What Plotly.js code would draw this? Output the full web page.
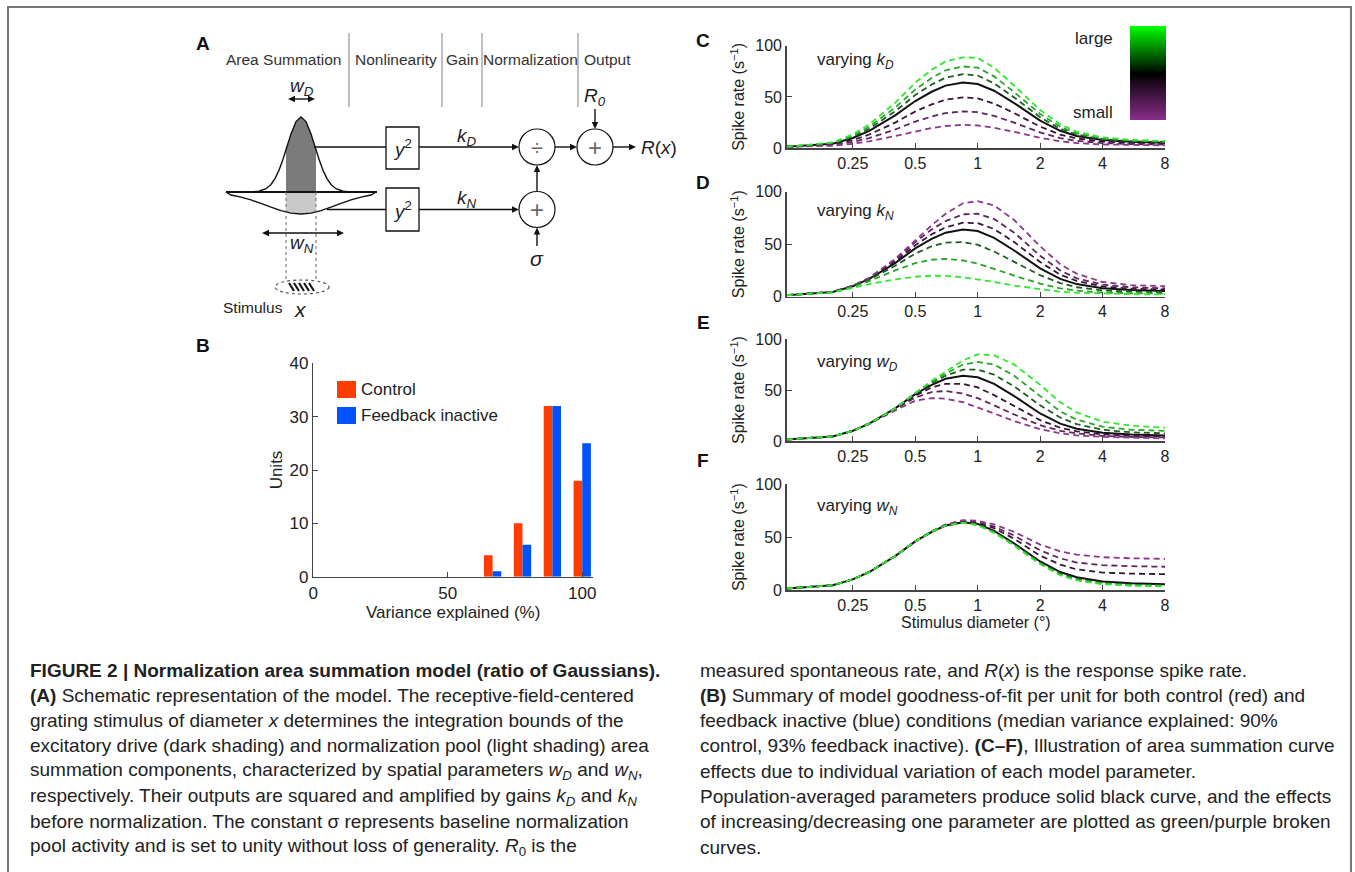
<!DOCTYPE html>
<html><head><meta charset="utf-8">
<script src="https://cdn.plot.ly/plotly-3.0.1.min.js"></script>
<style>html,body{margin:0;padding:0;background:#fff;}#chart{width:1355px;height:872px;}</style>
</head><body><div id="chart"></div>
<script>
// ---------- DATA ----------
const diam = [0.12, 0.2, 0.25, 0.3, 0.4, 0.5, 0.6, 0.7, 0.85, 1, 1.2, 1.5, 2, 2.5, 3, 4, 5.5, 8];
const diamTicks = [0.25, 0.5, 1, 2, 4, 8];
const diamTickText = ['0.25', '0.5', '1', '2', '4', '8'];
const populationCurve = [1.5, 4.5, 10, 17, 32, 46, 55, 61, 64, 62.5, 56, 44, 27, 17, 12, 8, 6.3, 5.5];

// C: varying kD (large -> green, small -> purple)
const kdLarge3 = [1.5, 5.7, 13.4, 23.2, 44.2, 63.8, 76.4, 84.5, 88.5, 88, 78.5, 61, 37.2, 23.2, 16.2, 10.6, 8.2, 7.1];
const kdLarge2 = [1.5, 5.3, 12.1, 20.9, 39.6, 57.1, 68.4, 75.9, 79.6, 78.5, 70, 54.6, 33.4, 20.9, 14.6, 9.6, 7.5, 6.5];
const kdLarge1 = [1.5, 4.9, 11.1, 19, 36, 51.8, 62, 68.7, 72.1, 70.8, 63.1, 49.5, 30.3, 19, 13.4, 8.8, 6.9, 6];
const kdSmall1 = [1.5, 3.8, 8, 13.4, 25, 35.8, 42.7, 47.3, 49.6, 48.5, 43.5, 34.2, 21.1, 13.4, 9.6, 6.5, 5.2, 4.6];
const kdSmall2 = [1.5, 3.2, 6.2, 10, 18.3, 26, 30.9, 34.2, 35.9, 35.1, 31.5, 24.9, 15.5, 10, 7.3, 5.1, 4.1, 3.7];
const kdSmall3 = [1.5, 2.5, 4.4, 6.8, 11.9, 16.6, 19.7, 21.7, 22.8, 22.2, 20, 16, 10.2, 6.8, 5.1, 3.7, 3.1, 2.9];

// D: varying kN
const knSmall3 = [1.5, 4.6, 10.5, 18, 36, 54, 68, 79, 89, 91, 87, 73, 48, 31, 22, 14, 11, 10];
const knSmall2 = [1.5, 4.6, 10.4, 17.8, 35, 52, 64, 72, 78.5, 79, 74, 61, 39, 25, 17.5, 11.5, 9, 8];
const knSmall1 = [1.5, 4.5, 10.2, 17.4, 33.5, 49, 59.5, 66, 70.5, 70, 64.5, 52, 33, 21, 15, 9.8, 7.6, 6.8];
const knLarge1 = [1.5, 4.4, 9.8, 16.3, 29.5, 41, 48, 51.5, 52, 49.5, 43, 33, 20.5, 13, 9, 6, 4.8, 4.3];
const knLarge2 = [1.5, 4.3, 9.3, 14.8, 25, 32, 35.2, 36, 34.5, 31.5, 26.5, 20, 12.5, 8, 5.8, 4, 3.3, 3];
const knLarge3 = [1.5, 4.1, 8.3, 12, 16.5, 19, 20, 19.8, 18.5, 16.5, 14, 10.5, 7, 4.8, 3.8, 2.8, 2.4, 2.2];

// E: varying wD
const wdLarge3 = [1.5, 4.5, 10, 17, 32, 47, 59, 68, 79, 85, 84, 75, 55, 38, 28, 19, 15, 13];
const wdLarge2 = [1.5, 4.5, 10, 17, 32, 47, 58, 66, 75, 77.5, 75, 64, 44, 29, 21, 14, 11, 10];
const wdLarge1 = [1.5, 4.5, 10, 17, 32, 46.5, 57, 64, 70, 70, 65, 53.5, 35, 23, 16.5, 11, 8.5, 7.5];
const wdSmall1 = [1.5, 4.5, 10, 17, 31.5, 44.5, 52.5, 56, 56, 52.5, 45, 34, 20.5, 13, 9.5, 6.5, 5, 4.5];
const wdSmall2 = [1.5, 4.5, 10, 17, 31, 42.5, 48, 49, 46.5, 42, 35, 26, 15.5, 10, 7.5, 5, 4, 3.5];
const wdSmall3 = [1.5, 4.5, 10, 16.8, 30, 39.5, 42, 41.5, 38, 33, 27, 19.5, 11.5, 7.5, 5.5, 4, 3, 2.5];

// F: varying wN
const wnSmall3 = [1.5, 4.5, 10, 17, 32, 46, 55.5, 62, 66, 65.5, 62, 55, 43, 36.5, 33.5, 31, 30, 29.5];
const wnSmall2 = [1.5, 4.5, 10, 17, 32, 46, 55.5, 61.5, 65.5, 64.5, 60, 51.5, 37.5, 30, 26, 23.5, 22.5, 22];
const wnSmall1 = [1.5, 4.5, 10, 17, 32, 46, 55, 61, 65, 63.5, 58.5, 48.5, 32.5, 24, 19.5, 16.5, 15.5, 15];
const wnLarge1 = [1.5, 4.5, 10, 17, 32, 46, 55, 61, 64, 62, 55, 43, 26, 15.5, 10.5, 6.8, 5, 4.3];
const wnLarge2 = [1.5, 4.5, 10, 17, 32, 46, 55, 61, 63.5, 61.5, 54.5, 42.5, 25, 14.5, 9.5, 6, 4.5, 3.8];
const wnLarge3 = [1.5, 4.5, 10, 17, 32, 46, 55, 61, 63.5, 61.5, 54, 42, 24.5, 14, 9, 5.5, 4, 3.5];

// B: histogram
const binCenters = [0, 11.11, 22.22, 33.33, 44.44, 55.56, 66.67, 77.78, 88.89, 100];
const controlUnits = [0, 0, 0, 0, 0, 0, 4, 10, 32, 18];
const feedbackUnits = [0, 0, 0, 0, 0, 0, 1, 6, 32, 25];
const seriesNames = ['Control', 'Feedback inactive'];
const unitTicks = [0, 10, 20, 30, 40];
const varianceTicks = [0, 50, 100];

// colour scale bar levels
const colorLevels = [0, 0.1, 0.2, 0.3, 0.4, 0.5, 0.6, 0.7, 0.8, 0.9, 1];

const stageLabels = ['Area Summation', 'Nonlinearity', 'Gain', 'Normalization', 'Output'];
const panelTexts = ['varying <i>k<sub>D</sub></i>', 'varying <i>k<sub>N</sub></i>', 'varying <i>w<sub>D</sub></i>', 'varying <i>w<sub>N</sub></i>'];

const captionLeft = [
  '<b>FIGURE 2 | Normalization area summation model (ratio of Gaussians).</b>',
  '<b>(A)</b> Schematic representation of the model. The receptive-field-centered',
  'grating stimulus of diameter <i>x</i> determines the integration bounds of the',
  'excitatory drive (dark shading) and normalization pool (light shading) area',
  'summation components, characterized by spatial parameters <i>w<sub>D</sub></i> and <i>w<sub>N</sub></i>,',
  'respectively. Their outputs are squared and amplified by gains <i>k<sub>D</sub></i> and <i>k<sub>N</sub></i>',
  'before normalization. The constant σ represents baseline normalization',
  'pool activity and is set to unity without loss of generality. <i>R</i><sub>0</sub> is the'
];
const captionRight = [
  'measured spontaneous rate, and <i>R</i>(<i>x</i>) is the response spike rate.',
  '<b>(B)</b> Summary of model goodness-of-fit per unit for both control (red) and',
  'feedback inactive (blue) conditions (median variance explained: 90%',
  'control, 93% feedback inactive). <b>(C–F)</b>, Illustration of area summation curve',
  'effects due to individual variation of each model parameter.',
  'Population-averaged parameters produce solid black curve, and the effects',
  'of increasing/decreasing one parameter are plotted as green/purple broken',
  'curves.'
];

// ---------- STYLE / LAYOUT ----------
const W = 1355, H = 872;
const FONT = 'Arial, "Liberation Sans", Helvetica, sans-serif';
const fx = p => p / W;
const fy = p => 1 - p / H;
const GREENS = ['#1f5c1f', '#28a528', '#2ee82e'];   // near black -> bright
const PURPLES = ['#3a133a', '#5e245e', '#8e378e'];
const DASH = '6px,4px';

const traces = [];
function addPanel(idx, large, small) {
  const xa = 'x' + (idx + 2), ya = 'y' + (idx + 2);
  traces.push({type: 'scatter', mode: 'lines', x: diam, y: populationCurve, xaxis: xa, yaxis: ya,
    line: {color: '#111', width: 2}, hoverinfo: 'skip', showlegend: false});
  small.forEach((s, i) => traces.push({type: 'scatter', mode: 'lines', x: diam, y: s, xaxis: xa, yaxis: ya,
    line: {color: PURPLES[i], width: 1.8, dash: DASH}, hoverinfo: 'skip', showlegend: false}));
  large.forEach((s, i) => traces.push({type: 'scatter', mode: 'lines', x: diam, y: s, xaxis: xa, yaxis: ya,
    line: {color: GREENS[i], width: 1.8, dash: DASH}, hoverinfo: 'skip', showlegend: false}));
}
addPanel(0, [kdLarge1, kdLarge2, kdLarge3], [kdSmall1, kdSmall2, kdSmall3]);
addPanel(1, [knLarge1, knLarge2, knLarge3], [knSmall1, knSmall2, knSmall3]);
addPanel(2, [wdLarge1, wdLarge2, wdLarge3], [wdSmall1, wdSmall2, wdSmall3]);
addPanel(3, [wnLarge1, wnLarge2, wnLarge3], [wnSmall1, wnSmall2, wnSmall3]);

traces.push({type: 'bar', x: binCenters, y: controlUnits, name: seriesNames[0], marker: {color: '#ff3c00', line: {width: 0}}, xaxis: 'x', yaxis: 'y', hoverinfo: 'skip'});
traces.push({type: 'bar', x: binCenters, y: feedbackUnits, name: seriesNames[1], marker: {color: '#0052ff', line: {width: 0}}, xaxis: 'x', yaxis: 'y', hoverinfo: 'skip'});

traces.push({type: 'heatmap', x: [0], y: colorLevels, z: colorLevels.map(v => [v]), zsmooth: 'best',
  colorscale: [[0, '#8b2f8b'], [0.5, '#000000'], [1, '#00ff00']], showscale: false, xaxis: 'x6', yaxis: 'y6', hoverinfo: 'skip'});
traces.push({type: 'scatter', x: [], y: [], xaxis: 'x7', yaxis: 'y7', showlegend: false, hoverinfo: 'skip'});

const layout = {
  width: W, height: H, margin: {l: 0, r: 0, t: 0, b: 0},
  paper_bgcolor: '#fff', plot_bgcolor: 'rgba(0,0,0,0)', showlegend: false,
  font: {family: FONT, size: 16, color: '#222'},
  barmode: 'group', bargap: 0.42, bargroupgap: 0,
  xaxis: {domain: [fx(313.3), fx(593)], range: [0, 104], anchor: 'y', tickvals: varianceTicks,
    ticks: 'inside', ticklen: 5, tickcolor: '#444', showline: true, linecolor: '#444', linewidth: 1.5,
    showgrid: false, zeroline: false, tickfont: {size: 17},
    title: {text: 'Variance explained (%)', font: {size: 17}, standoff: 0}},
  yaxis: {domain: [fy(576.7), fy(363.3)], range: [0, 40], anchor: 'x', tickvals: unitTicks,
    ticks: 'inside', ticklen: 5, tickcolor: '#444', showline: true, linecolor: '#444', linewidth: 1.5,
    showgrid: false, zeroline: false, tickfont: {size: 17},
    title: {text: 'Units', font: {size: 17}, standoff: 2}},
  xaxis6: {domain: [fx(1130), fx(1166)], range: [-0.5, 0.5], visible: false, anchor: 'y6'},
  yaxis6: {domain: [fy(120), fy(26)], range: [0, 1], visible: false, anchor: 'x6'},
  xaxis7: {domain: [0, 1], range: [0, W], visible: false, anchor: 'y7', fixedrange: true},
  yaxis7: {domain: [0, 1], range: [H, 0], visible: false, anchor: 'x7', fixedrange: true},
  shapes: [], annotations: []
};

const panelY = [[45.5, 148.3], [191.7, 296.7], [339, 441], [484.3, 590]];
panelY.forEach((py, i) => {
  const n = i + 2;
  layout['xaxis' + n] = {domain: [fx(786.7), fx(1165)], type: 'log', range: [Math.log10(0.12), Math.log10(8)],
    anchor: 'y' + n, tickvals: diamTicks, ticktext: diamTickText, ticks: 'inside', ticklen: 5, tickcolor: '#444',
    showline: true, linecolor: '#444', linewidth: 1.5, showgrid: false, zeroline: false, tickfont: {size: 16}};
  layout['yaxis' + n] = {domain: [fy(py[1]), fy(py[0])], range: [0, 100], anchor: 'x' + n, tickvals: [0, 50, 100],
    ticks: 'inside', ticklen: 5, tickcolor: '#444', showline: true, linecolor: '#444', linewidth: 1.5,
    showgrid: false, zeroline: false, tickfont: {size: 16},
    title: {text: 'Spike rate (s<sup>−1</sup>)', font: {size: 16}, standoff: 6}};
});
layout.xaxis5.title = {text: 'Stimulus diameter (°)', font: {size: 16}, standoff: 0};

// helpers in page pixel space (axis x7/y7)
const S = layout.shapes, A = layout.annotations;
function txt(x, y, text, o) {
  A.push(Object.assign({x, y, xref: 'x7', yref: 'y7', text, showarrow: false, xanchor: 'center', yanchor: 'middle',
    font: {size: 16, color: '#222'}}, o || {}));
}
function line(x0, y0, x1, y1, o) {
  S.push(Object.assign({type: 'line', xref: 'x7', yref: 'y7', x0, y0, x1, y1, line: {color: '#111', width: 1.5}}, o || {}));
}
function head(tx, ty, ux, uy) {
  const L = 7, w = 3.2, nx = -uy, ny = ux;
  S.push({type: 'path', xref: 'x7', yref: 'y7', fillcolor: '#111', line: {width: 0},
    path: `M${tx},${ty} L${tx - L * ux + w * nx},${ty - L * uy + w * ny} L${tx - L * ux - w * nx},${ty - L * uy - w * ny} Z`});
}
function arrow(x0, y0, x1, y1, both) {
  const d = Math.hypot(x1 - x0, y1 - y0), ux = (x1 - x0) / d, uy = (y1 - y0) / d;
  line(both ? x0 + 6 * ux : x0, both ? y0 + 6 * uy : y0, x1 - 6 * ux, y1 - 6 * uy, {line: {color: '#111', width: 1.4}});
  head(x1, y1, ux, uy);
  if (both) head(x0, y0, -ux, -uy);
}

// border frame
S.push({type: 'rect', xref: 'x7', yref: 'y7', x0: 8, y0: 7, x1: 1351, y1: 900, line: {color: '#777', width: 2}});

// panel labels
[['A', 203, 43], ['B', 203, 345], ['C', 703, 40], ['D', 703, 182], ['E', 703, 322], ['F', 703, 460]]
  .forEach(p => txt(p[1], p[2], '<b>' + p[0] + '</b>', {font: {size: 19, color: '#111'}}));

// ---- Panel A schematic ----
const stageX = [283, 396, 462, 530, 607];
stageLabels.forEach((s, i) => txt(stageX[i], 59, s, {font: {size: 15.5, color: '#333'}}));
[349, 442, 482, 578].forEach(x => line(x, 33, x, 107, {line: {color: '#aaa', width: 1.5}}));
S.push({type: 'path', xref: 'x7', yref: 'y7',
  path: 'M286,192 L286,149.8 L291,133.9 L296,121.6 L301,117 L306,121.6 L311,133.9 L316,149.8 L316,192 Z',
  fillcolor: '#7b7b7b', line: {width: 0}});
S.push({type: 'path', xref: 'x7', yref: 'y7',
  path: 'M286,192 L286,212.1 L291,213.1 L301,214 L311,213.1 L316,212.1 L316,192 Z',
  fillcolor: '#c9c9c9', line: {width: 0}});
S.push({type: 'path', xref: 'x7', yref: 'y7',
  path: 'M251,192 L259,191.2 L266,188.7 L271,184.5 L275,178.6 L279,170.2 L283,159.2 L287,146.5 L291,133.9 L296,121.6 L301,117 L306,121.6 L311,133.9 L315,146.5 L319,159.2 L323,170.2 L327,178.6 L331,184.5 L336,188.7 L343,191.2 L351,192',
  line: {color: '#111', width: 1.4}});
S.push({type: 'path', xref: 'x7', yref: 'y7',
  path: 'M226,192 L231,195 L241,197.1 L251,199.9 L261,203.4 L271,207.2 L281,210.7 L291,213.1 L301,214 L311,213.1 L321,210.7 L331,207.2 L341,203.4 L351,199.9 L361,197.1 L371,195 L376,192',
  line: {color: '#111', width: 1.4}});
line(226, 192, 377, 192, {line: {color: '#111', width: 2}});
arrow(288, 99, 315, 99, true);
txt(302, 87, '<i>w<sub>D</sub></i>', {font: {size: 19, color: '#222'}});
arrow(262, 233, 344, 233, true);
txt(302, 244, '<i>w<sub>N</sub></i>', {font: {size: 19, color: '#222'}});
line(286, 192, 286, 281, {line: {color: '#666', width: 1, dash: 'dot'}});
line(316, 192, 316, 281, {line: {color: '#666', width: 1, dash: 'dot'}});
S.push({type: 'circle', xref: 'x7', yref: 'y7', x0: 275, x1: 329, y0: 280, y1: 294, line: {color: '#555', width: 1.2, dash: 'dot'}});
[291, 296, 301, 306, 311].forEach(x => line(x - 2, 283, x + 3, 291, {line: {color: '#111', width: 2}}));
txt(253, 307, 'Stimulus', {font: {size: 15.5, color: '#222'}});
txt(300, 309, '<i>x</i>', {font: {size: 21, color: '#222'}});
line(314, 147, 386, 147);
line(327, 209.5, 386, 209.5);
S.push({type: 'rect', xref: 'x7', yref: 'y7', x0: 386, x1: 419, y0: 127, y1: 169, line: {color: '#111', width: 1.3}});
S.push({type: 'rect', xref: 'x7', yref: 'y7', x0: 386, x1: 419, y0: 188, y1: 231, line: {color: '#111', width: 1.3}});
txt(402, 148, '<i>y</i><sup>2</sup>', {font: {size: 19, color: '#222'}});
txt(402, 210, '<i>y</i><sup>2</sup>', {font: {size: 19, color: '#222'}});
arrow(419, 147, 519, 147);
arrow(419, 209.5, 519, 209.5);
txt(467, 137, '<i>k<sub>D</sub></i>', {font: {size: 19, color: '#222'}});
txt(467, 199, '<i>k<sub>N</sub></i>', {font: {size: 19, color: '#222'}});
[[537, 147], [537, 209.5], [595, 147]].forEach(c =>
  S.push({type: 'circle', xref: 'x7', yref: 'y7', x0: c[0] - 18, x1: c[0] + 18, y0: c[1] - 18, y1: c[1] + 18, line: {color: '#111', width: 1.2}}));
txt(537, 147, '÷', {font: {size: 22, color: '#666'}});
txt(537, 209.5, '+', {font: {size: 24, color: '#666'}});
txt(595, 147, '+', {font: {size: 24, color: '#666'}});
arrow(537, 191.5, 537, 165);
arrow(537, 246, 537, 227.5);
txt(537, 258, '<i>σ</i>', {font: {size: 21, color: '#222'}});
arrow(555, 147, 577, 147);
arrow(595, 109, 595, 129);
txt(595, 97, '<i>R<sub>0</sub></i>', {font: {size: 19, color: '#222'}});
arrow(613, 147, 636, 147);
txt(639, 147, '<i>R</i>(<i>x</i>)', {xanchor: 'left', font: {size: 19, color: '#222'}});

// ---- Panel B legend ----
S.push({type: 'rect', xref: 'x7', yref: 'y7', x0: 337, x1: 356, y0: 381, y1: 398, fillcolor: '#ff3c00', line: {width: 0}});
S.push({type: 'rect', xref: 'x7', yref: 'y7', x0: 337, x1: 356, y0: 407, y1: 424, fillcolor: '#0052ff', line: {width: 0}});
txt(359, 389.5, seriesNames[0], {xanchor: 'left', font: {size: 17, color: '#222'}});
txt(359, 415.5, seriesNames[1], {xanchor: 'left', font: {size: 17, color: '#222'}});

// ---- Panels C-F texts ----
[61, 212, 363, 507].forEach((y, i) => txt(815, y, panelTexts[i], {xanchor: 'left', font: {size: 17, color: '#222'}}));
txt(1115, 38, 'large', {xanchor: 'right', font: {size: 17, color: '#222'}});
txt(1115, 112, 'small', {xanchor: 'right', font: {size: 17, color: '#222'}});

// ---- Caption ----
captionLeft.forEach((t, i) => txt(28, 670 + 25.3 * i, t, {xanchor: 'left', font: {size: 19, color: '#222'}}));
captionRight.forEach((t, i) => txt(698, 670 + 25.3 * i, t, {xanchor: 'left', font: {size: 19, color: '#222'}}));

Plotly.newPlot('chart', traces, layout, {staticPlot: true, displayModeBar: false});
</script></body></html>
